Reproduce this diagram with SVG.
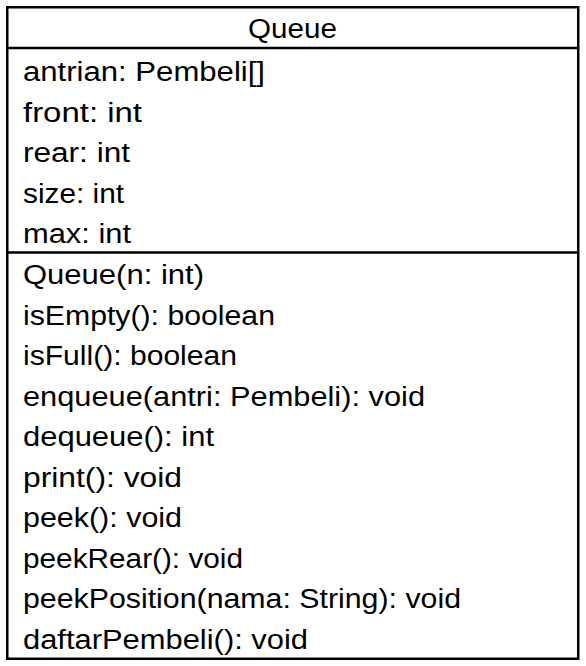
<svg xmlns="http://www.w3.org/2000/svg" width="586" height="666" viewBox="0 0 586 666">
<style>
.t{font-family:"Liberation Sans",Arial,sans-serif;font-size:27px;fill:#000}
.b{fill:#fff;stroke:#000;stroke-width:2.5}
.l{stroke:#000;stroke-width:2.5}
</style>
<rect width="586" height="666" fill="#fff"/>
<g id="Queue">
<rect class="b" x="7.25" y="7.25" width="571" height="651.5"/>
<line class="l" x1="7" y1="48" x2="579" y2="48"/>
<line class="l" x1="7" y1="252.5" x2="579" y2="252.5"/>
<text class="t" x="292.5" y="38" text-anchor="middle" textLength="89" lengthAdjust="spacingAndGlyphs">Queue</text>
<text class="t" x="23" y="81" textLength="242" lengthAdjust="spacingAndGlyphs">antrian: Pembeli[]</text>
<text class="t" x="23" y="121.5" textLength="119" lengthAdjust="spacingAndGlyphs">front: int</text>
<text class="t" x="23" y="162" textLength="107" lengthAdjust="spacingAndGlyphs">rear: int</text>
<text class="t" x="23" y="202.5" textLength="101" lengthAdjust="spacingAndGlyphs">size: int</text>
<text class="t" x="23" y="243" textLength="108" lengthAdjust="spacingAndGlyphs">max: int</text>
<text class="t" x="23" y="284" textLength="181" lengthAdjust="spacingAndGlyphs">Queue(n: int)</text>
<text class="t" x="23" y="324.5" textLength="252" lengthAdjust="spacingAndGlyphs">isEmpty(): boolean</text>
<text class="t" x="23" y="365" textLength="214" lengthAdjust="spacingAndGlyphs">isFull(): boolean</text>
<text class="t" x="23" y="405.5" textLength="402" lengthAdjust="spacingAndGlyphs">enqueue(antri: Pembeli): void</text>
<text class="t" x="23" y="446" textLength="191" lengthAdjust="spacingAndGlyphs">dequeue(): int</text>
<text class="t" x="23" y="486.5" textLength="159" lengthAdjust="spacingAndGlyphs">print(): void</text>
<text class="t" x="23" y="527" textLength="159" lengthAdjust="spacingAndGlyphs">peek(): void</text>
<text class="t" x="23" y="567.5" textLength="220" lengthAdjust="spacingAndGlyphs">peekRear(): void</text>
<text class="t" x="23" y="608" textLength="438" lengthAdjust="spacingAndGlyphs">peekPosition(nama: String): void</text>
<text class="t" x="23" y="648.5" textLength="285" lengthAdjust="spacingAndGlyphs">daftarPembeli(): void</text>
</g>
</svg>
